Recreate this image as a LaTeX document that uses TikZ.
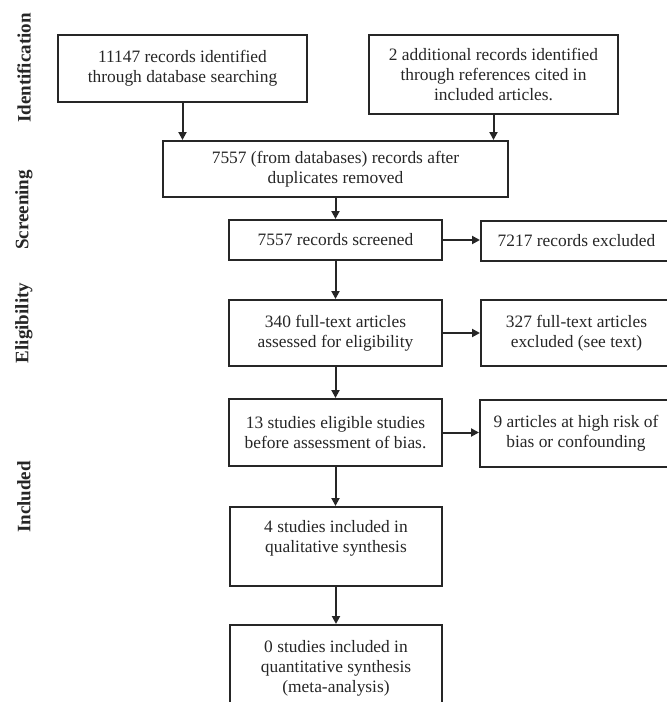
\documentclass[tikz,border=0pt]{standalone}
\usepackage{fontspec}
\setmainfont{Liberation Serif}
\usetikzlibrary{arrows.meta}

\begin{document}
\begin{tikzpicture}[x=1pt, y=-1pt]
	\tikzstyle{every node} = [text=black!85, font=\fontsize{17.4}{20}\selectfont]
	\tikzstyle{box} = [draw=black!85, line width=2pt, align=center, inner sep=0pt]
	\tikzstyle{stage} = [rotate=90, font=\fontsize{19}{22}\selectfont\bfseries]
	\tikzstyle{flow} = [draw=black!85, line width=2pt, -{Triangle[length=8pt, width=8pt]}]
	\useasboundingbox (0,0) rectangle (667,702);
	% stages
	\node[stage] (identlbl) at (24, 68) {Identification};
	\node[stage] (screenlbl) at (24, 210) {Screening};
	\node[stage] (eliglbl) at (24, 323) {Eligibility};
	\node[stage] (incllbl) at (24, 497) {Included};
	% boxes
	\node[box, minimum width=249, minimum height=67] (ident) at (182.5, 68.5) {11147 records identified\\through database searching};
	\node[box, minimum width=249, minimum height=79] (extra) at (493.5, 74.5) {2 additional records identified\\through references cited in\\included articles.};
	\node[box, minimum width=345, minimum height=56] (dedup) at (335.5, 169) {7557 (from databases) records after\\duplicates removed};
	\node[box, minimum width=213, minimum height=40] (screen) at (335.5, 240) {7557 records screened};
	\node[box, minimum width=191, minimum height=40] (excl) at (576.5, 240.5) {7217 records excluded};
	\node[box, minimum width=213, minimum height=66] (full) at (335.5, 333) {340 full-text articles\\assessed for eligibility};
	\node[box, minimum width=191, minimum height=66] (fullexcl) at (576.5, 333) {327 full-text articles\\excluded (see text)};
	\node[box, minimum width=213, minimum height=67] (elig) at (335.5, 432.5) {13 studies eligible studies\\before assessment of bias.};
	\node[box, minimum width=192, minimum height=67] (bias) at (576, 433.5) {9 articles at high risk of\\bias or confounding};
	\node[box, minimum width=212, minimum height=79] (qual) at (336, 546.5) {4 studies included in\\qualitative synthesis\\\mbox{}};
	\node[box, minimum width=212, minimum height=86] (quant) at (336, 668) {0 studies included in\\quantitative synthesis\\(meta-analysis)};
	% arrows
	\draw [flow] (ident.south) -- (ident.south |- dedup.north);
	\draw [flow] (extra.south) -- (extra.south |- dedup.north);
	\draw [flow] (dedup.south) -- (dedup.south |- screen.north);
	\draw [flow] (screen.east) -- (screen.east -| excl.west);
	\draw [flow] (screen.south) -- (screen.south |- full.north);
	\draw [flow] (full.east) -- (full.east -| fullexcl.west);
	\draw [flow] (full.south) -- (full.south |- elig.north);
	\draw [flow] (elig.east) -- (elig.east -| bias.west);
	\draw [flow] (elig.south) -- (elig.south |- qual.north);
	\draw [flow] (qual.south) -- (qual.south |- quant.north);
\end{tikzpicture}
\end{document}
